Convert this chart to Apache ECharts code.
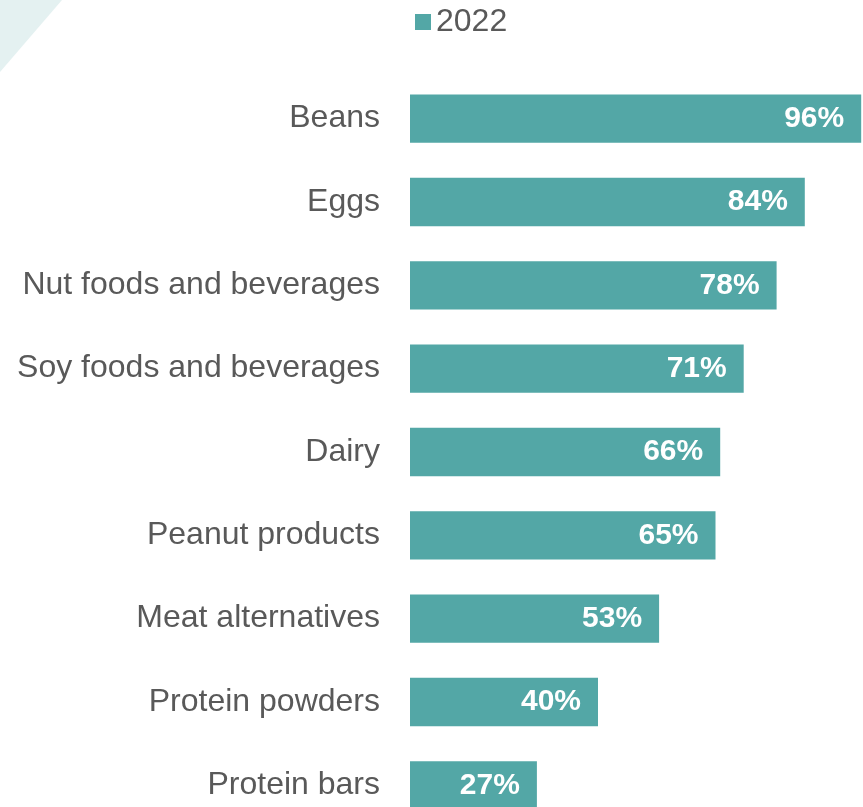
<!DOCTYPE html>
<html>
<head>
<meta charset="utf-8">
<style>
  html, body { margin: 0; padding: 0; background: #ffffff; }
  #chart { width: 863px; height: 807px; }
</style>
<script src="https://cdn.jsdelivr.net/npm/echarts@6/dist/echarts.min.js"></script>
</head>
<body>
<div id="chart"></div>
<script>
// Protein sources, share of respondents (%), survey year 2022
const categories = [
  'Beans',
  'Eggs',
  'Nut foods and beverages',
  'Soy foods and beverages',
  'Dairy',
  'Peanut products',
  'Meat alternatives',
  'Protein powders',
  'Protein bars'
];
const values2022 = [96, 84, 78, 71, 66, 65, 53, 40, 27];
const seriesName = '2022';

const barColor = '#53a7a6';
const textColor = '#595959';
const font = 'Liberation Sans, Arial, sans-serif';

const chart = echarts.init(document.getElementById('chart'), null, { renderer: 'canvas' });

chart.setOption({
  animation: false,
  backgroundColor: '#ffffff',
  graphic: [{
    type: 'polygon',
    shape: { points: [[0, 0], [62, 0], [0, 72]] },
    style: { fill: '#e4f1f1' },
    z: -1
  }],
  legend: {
    data: [seriesName],
    left: 410,
    top: 1,
    icon: 'rect',
    itemWidth: 16,
    itemHeight: 16,
    itemGap: 6,
    textStyle: { fontSize: 32, color: textColor, fontFamily: font }
  },
  grid: {
    left: 410,
    top: 77,
    width: 470,
    height: 750,
    outerBoundsMode: 'none',
    containLabel: false
  },
  xAxis: {
    type: 'value',
    min: 0,
    max: 100,
    show: false
  },
  yAxis: {
    type: 'category',
    data: categories,
    inverse: true,
    axisLine: { show: false },
    axisTick: { show: false },
    splitLine: { show: false },
    axisLabel: {
      margin: 30,
      fontSize: 32,
      padding: [6, 0, 0, 0],
      color: textColor,
      fontFamily: font
    }
  },
  series: [{
    name: seriesName,
    type: 'bar',
    data: values2022,
    barCategoryGap: '42%',
    itemStyle: { color: barColor },
    label: {
      show: true,
      position: 'insideRight',
      distance: 17,
      padding: [6, 0, 0, 0],
      formatter: '{c}%',
      color: '#ffffff',
      fontWeight: 'bold',
      fontSize: 30,
      fontFamily: font
    }
  }]
});
</script>
</body>
</html>
